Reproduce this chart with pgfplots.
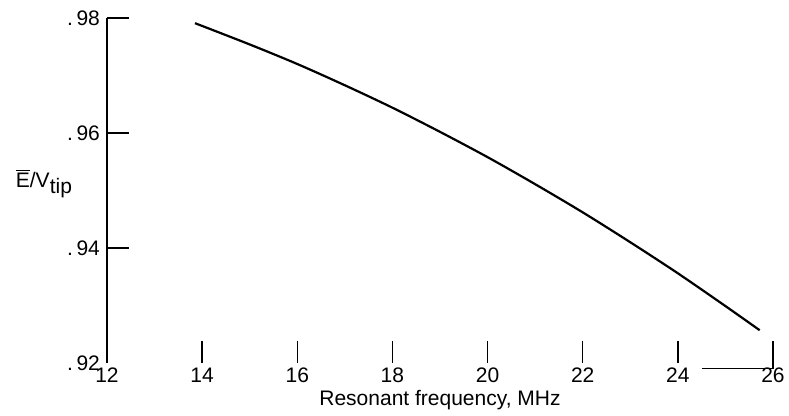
\documentclass[border=0pt]{standalone}
\usepackage{fontspec}
\setmainfont{Liberation Sans}
\usepackage{pgfplots}
\pgfplotsset{compat=1.18}
\begin{document}
\begin{tikzpicture}
  \useasboundingbox (-53.5pt,-26.5pt) rectangle (341pt,181.5pt);
  \begin{axis}[
      scale only axis, width=333pt, height=172.5pt,
      xmin=12, xmax=26, ymin=0.92, ymax=0.98,
      clip=false,
      axis x line*=bottom, axis y line*=left,
      x axis line style={draw=none, -},
      y axis line style={line width=0.9pt, -},
      tick align=inside, major tick length=11pt,
      tick style={line width=0.7pt, black},
      xtick={14,16,...,26},
      ytick={0.94,0.96,0.98},
      yticklabels={.\,94,.\,96,.\,98},
      extra x ticks={12}, extra x tick style={major tick length=0pt},
      extra y ticks={0.92}, extra y tick labels={.\,92},
      extra y tick style={major tick length=0pt},
      /pgf/number format/assume math mode=true,
      tick label style={font=\fontsize{10.5}{12}\selectfont},
      label style={font=\fontsize{10.5}{12}\selectfont},
      xticklabel style={yshift=1pt},
      xlabel={Resonant frequency, MHz},
      xlabel style={yshift=3pt},
      ylabel={$\overline{\hbox{E}}$/V\raisebox{-0.5ex}{tip}},
      ylabel style={rotate=-90, anchor=east, at={(rel axis cs:0,0.52)}, xshift=-14pt},
    ]
    \addplot[black, line width=1.1pt, smooth] coordinates {
      (13.85,0.9791) (15,0.9754) (16,0.9720) (17,0.9683) (18,0.9644)
      (19,0.9602) (20,0.9558) (21,0.9511) (22,0.9462) (23,0.9410)
      (24,0.9356) (25,0.9299) (25.72,0.9257)
    };
    \draw[line width=0.7pt] (axis cs:24.5,0.919) -- (axis cs:26,0.919) -- (axis cs:26,0.922);
  \end{axis}
\end{tikzpicture}
\end{document}
